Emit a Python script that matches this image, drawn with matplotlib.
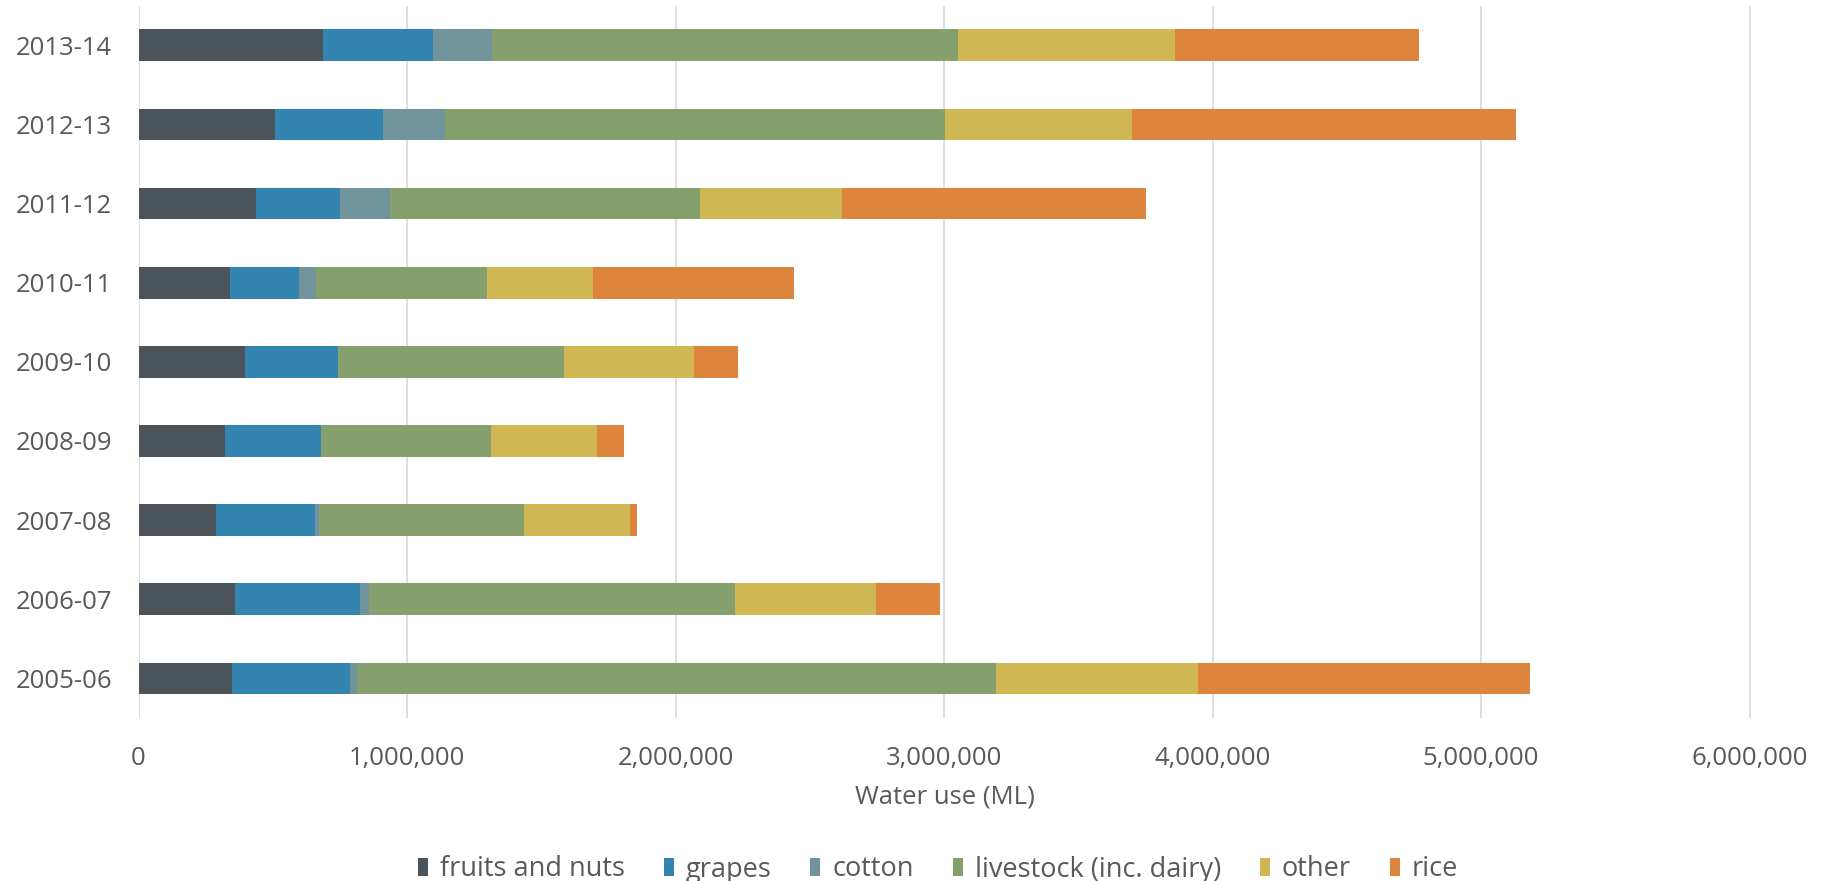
import matplotlib
matplotlib.use("Agg")
import matplotlib.pyplot as plt
from matplotlib.ticker import FuncFormatter
import numpy as np

# water use by crop type (ML)
years = ["2005-06", "2006-07", "2007-08", "2008-09", "2009-10",
         "2010-11", "2011-12", "2012-13", "2013-14"]
fruits_nuts = [347500, 360700, 288500, 321300, 397800, 341000, 439300, 509000, 688500]
grapes = [441500, 465500, 369400, 358500, 345400, 255700, 312600, 402500, 406500]
cotton = [24100, 32800, 13100, 0, 0, 65600, 183600, 229500, 221000]
livestock = [2380300, 1364000, 762900, 631700, 841500, 633900, 1156300, 1863400, 1734500]
other = [751600, 524500, 395600, 395600, 485200, 395600, 529000, 694200, 811000]
rice = [1237400, 237100, 26200, 102700, 161800, 749700, 1130800, 1430400, 907500]

series = [fruits_nuts, grapes, cotton, livestock, other, rice]
names = ["fruits and nuts", "grapes", "cotton", "livestock (inc. dairy)", "other", "rice"]
colors = ["#4B535B", "#3384AE", "#71939C", "#85A06C", "#CFB853", "#DD843D"]

plt.rcParams["font.family"] = ["Open Sans", "DejaVu Sans"]
txt = "#595959"
fs = 18.5

fig = plt.figure(figsize=(18.25, 8.81), dpi=100)
ax = fig.add_axes([138.5 / 1825, 1 - 718 / 881, (1751 - 138.5) / 1825, (718 - 5.7) / 881])

y = np.arange(len(years))
left = np.zeros(len(years))
for vals, name, c in zip(series, names, colors):
    ax.barh(y, vals, left=left, height=0.4, color=c, label=name, zorder=3)
    left += np.array(vals)

ax.set_xlim(0, 6000000 * 1.0009)
ax.set_ylim(-0.5, len(years) - 0.5)
ax.set_xticks(np.arange(0, 6000001, 1000000))
ax.xaxis.set_major_formatter(FuncFormatter(lambda v, p: f"{int(v):,}"))
ax.set_yticks(y)
ax.set_yticklabels(years)
ax.grid(axis="x", color="#D9D9D9", linewidth=1.2, zorder=0)
for s in ax.spines.values():
    s.set_visible(False)
ax.tick_params(axis="both", length=0, labelsize=fs, colors=txt)
ax.tick_params(axis="y", pad=19)
ax.tick_params(axis="x", pad=20)
ax.set_xlabel("Water use (ML)", fontsize=fs, color=txt, labelpad=10)

fig.legend(*ax.get_legend_handles_labels(), loc="center",
           bbox_to_anchor=(0.514, 1 - 869.5 / 881), ncol=6, frameon=False,
           fontsize=19.5, labelcolor=txt, handlelength=0.37, handleheight=0.62,
           handletextpad=0.44, columnspacing=1.44, borderpad=0)

fig.savefig("out.png", dpi=100, facecolor="white")
